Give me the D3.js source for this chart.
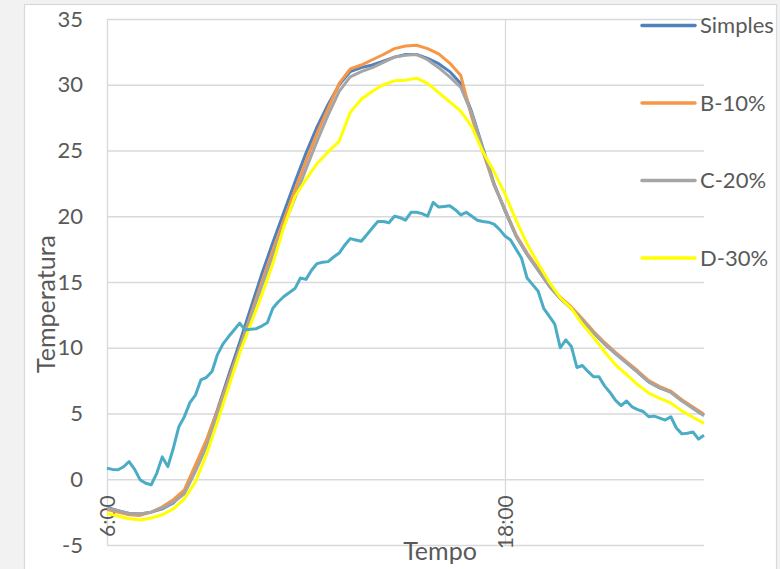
<!DOCTYPE html>
<html>
<head>
<meta charset="utf-8">
<script src="https://cdn.jsdelivr.net/npm/d3@7"></script>
<style>
  html, body { margin: 0; padding: 0; background: #f2f2f2; overflow: hidden; }
  svg { display: block; }
  text { font-family: Lato, "Open Sans", sans-serif; fill: #595959; }
</style>
</head>
<body>
<div class="canvas"></div>
<script>
// ---- data ----
const startHour = 6;
const endHour = 24;
const stepMain = 20; // minutes between points of the four named series
const stepTeal = 10; // minutes between points of the unnamed series

const seriesNames = ["Simples", "B-10%", "C-20%", "D-30%"];
const seriesColors = ["#4f81bd", "#f79646", "#a5a5a5", "#ffff00"];
const tealColor = "#4bacc6";

const simples = [
  -2.15, -2.4, -2.6, -2.65, -2.5, -2.25, -1.8, -0.95, 0.9, 2.9,
  5.3, 7.9, 10.4, 13.0, 15.6, 18.0, 20.3, 22.6, 24.8, 26.8,
  28.5, 30.0, 31.0, 31.3, 31.5, 31.8, 32.1, 32.3, 32.3, 32.0,
  31.6, 31.0, 30.1, 27.9, 25.2, 22.5, 20.4, 18.5, 17.1, 15.9,
  14.7, 13.75, 13.0, 12.1, 11.15, 10.3, 9.55, 8.85, 8.15, 7.4,
  6.95, 6.65, 6.0, 5.4, 4.85
];
const b10 = [
  -2.3, -2.5, -2.7, -2.75, -2.5, -2.1, -1.55, -0.8, 1.1, 3.0,
  5.2, 7.6, 10.0, 12.5, 15.0, 17.4, 19.7, 22.0, 24.2, 26.3,
  28.2, 30.1, 31.2, 31.5, 31.9, 32.3, 32.75, 32.95, 33.0, 32.75,
  32.35, 31.65, 30.7, 27.5, 24.9, 22.4, 20.5, 18.6, 17.2, 16.0,
  14.8, 13.85, 13.1, 12.2, 11.25, 10.4, 9.65, 8.95, 8.25, 7.5,
  7.05, 6.7, 6.05, 5.5, 4.95
];
const c20 = [
  -2.2, -2.4, -2.6, -2.65, -2.5, -2.2, -1.75, -1.1, 0.6, 2.5,
  5.0, 7.4, 9.9, 12.3, 14.7, 17.0, 19.3, 21.4, 23.6, 25.7,
  27.7, 29.5, 30.6, 31.0, 31.3, 31.7, 32.1, 32.25, 32.3, 31.9,
  31.3, 30.6, 29.8, 27.8, 25.1, 22.4, 20.5, 18.5, 17.1, 15.9,
  14.7, 13.75, 13.0, 12.1, 11.15, 10.3, 9.55, 8.85, 8.15, 7.4,
  6.95, 6.6, 5.95, 5.4, 4.85
];
const d30 = [
  -2.6, -2.8, -3.0, -3.1, -2.95, -2.7, -2.25, -1.5, -0.2, 1.9,
  4.4, 7.0, 9.6, 11.8, 14.0, 16.4, 19.2, 21.5, 22.8, 24.0,
  24.9, 25.7, 27.9, 28.9, 29.5, 30.0, 30.3, 30.35, 30.5, 30.1,
  29.4, 28.7, 28.0, 26.8, 24.9, 23.4, 21.7, 19.7, 17.9, 16.4,
  15.0, 13.8, 13.0, 11.8, 10.8, 9.7, 8.7, 7.95, 7.2, 6.55,
  6.15, 5.8, 5.2, 4.72, 4.25
];
const teal = [
  0.84, 0.75, 0.72, 0.95, 1.34, 0.75, -0.05, -0.3, -0.42, 0.45,
  1.7, 0.96, 2.36, 4.0, 4.76, 5.83, 6.4, 7.56, 7.75, 8.2,
  9.5, 10.3, 10.85, 11.35, 11.87, 11.36, 11.4, 11.45, 11.65, 11.9,
  13.0, 13.5, 13.9, 14.2, 14.5, 15.3, 15.2, 15.9, 16.4, 16.5,
  16.55, 16.9, 17.2, 17.8, 18.3, 18.2, 18.1, 18.6, 19.1, 19.6,
  19.6, 19.5, 20.0, 19.9, 19.7, 20.3, 20.3, 20.2, 20.0, 21.05,
  20.7, 20.75, 20.8, 20.5, 20.1, 20.3, 20.0, 19.7, 19.6, 19.55,
  19.4, 19.0, 18.5, 18.2, 17.5, 16.8, 15.3, 14.8, 14.3, 13.0,
  12.4, 11.8, 10.0, 10.6, 10.1, 8.5, 8.65, 8.2, 7.8, 7.8,
  7.1, 6.6, 6.0, 5.6, 5.95, 5.5, 5.3, 5.15, 4.75, 4.8,
  4.65, 4.5, 4.75, 3.9, 3.45, 3.5, 3.6, 3.05, 3.35
];

const yTicks = [-5, 0, 5, 10, 15, 20, 25, 30, 35];
const xTickHours = [6, 18];
const xTickLabels = ["6:00", "18:00"];

// ---- layout ----
const width = 780;
const height = 569;
const margin = { top: 19, right: 76, bottom: 24, left: 107 };
const graphWidth = width - margin.left - margin.right;
const graphHeight = height - margin.top - margin.bottom;

const svg = d3
  .select(".canvas")
  .append("svg")
  .attr("width", width)
  .attr("height", height);

// chart area frame
svg
  .append("rect")
  .attr("x", 24.5)
  .attr("y", 4.5)
  .attr("width", 752)
  .attr("height", 600)
  .attr("fill", "#fff")
  .attr("stroke", "#d9d9d9")
  .attr("stroke-width", 1.2);

const graph = svg
  .append("g")
  .attr("transform", `translate(${margin.left}, ${margin.top})`);

// scales
const x = d3.scaleLinear().domain([startHour, endHour]).range([0, graphWidth]);
const y = d3.scaleLinear().domain([-5, 35]).range([graphHeight, 0]);

// horizontal gridlines + y labels
const yAxisGroup = graph
  .append("g")
  .attr("class", "y-axis")
  .call(
    d3.axisLeft(y)
      .tickValues(yTicks)
      .tickSize(-graphWidth)
      .tickPadding(24)
      .tickFormat((d) => String(d))
  );
yAxisGroup.select(".domain").remove();
yAxisGroup
  .selectAll("line")
  .attr("stroke", "#d9d9d9")
  .attr("stroke-width", 1.3);
yAxisGroup
  .selectAll("text")
  .attr("font-size", 22)
  .style("font-family", "Lato, sans-serif")
  .attr("fill", "#595959");

// vertical gridlines
const xGridGroup = graph
  .append("g")
  .attr("class", "x-grid")
  .attr("transform", `translate(0, ${graphHeight})`)
  .call(d3.axisBottom(x).tickValues(xTickHours).tickSize(-graphHeight).tickFormat(""));
xGridGroup.select(".domain").remove();
xGridGroup
  .selectAll("line")
  .attr("stroke", "#d9d9d9")
  .attr("stroke-width", 1.3);

// x labels sit just under the zero line
const xAxisGroup = graph
  .append("g")
  .attr("class", "x-axis")
  .attr("transform", `translate(0, ${y(0)})`)
  .call(
    d3.axisBottom(x)
      .tickValues(xTickHours)
      .tickSize(0)
      .tickFormat((d, i) => xTickLabels[i])
  );
xAxisGroup.select(".domain").remove();
xAxisGroup
  .selectAll("text")
  .attr("font-size", 21)
  .style("font-family", "Lato, sans-serif")
  .attr("fill", "#595959")
  .attr("transform", "rotate(-90)")
  .attr("text-anchor", "end")
  .attr("x", -16)
  .attr("y", 0)
  .attr("dy", "0.36em");

// line generators
const mainLine = d3
  .line()
  .x((d, i) => x(startHour + (i * stepMain) / 60))
  .y((d) => y(d));

const tealLine = d3
  .line()
  .x((d, i) => x(startHour + (i * stepTeal) / 60))
  .y((d) => y(d));

const mainSeries = [simples, b10, c20, d30];

graph
  .selectAll("path.series")
  .data(mainSeries)
  .enter()
  .append("path")
  .attr("class", "series")
  .attr("fill", "none")
  .attr("stroke", (d, i) => seriesColors[i])
  .attr("stroke-width", 3)
  .attr("stroke-linejoin", "round")
  .attr("d", mainLine);

graph
  .append("path")
  .datum(teal)
  .attr("fill", "none")
  .attr("stroke", tealColor)
  .attr("stroke-width", 3)
  .attr("stroke-linejoin", "round")
  .attr("d", tealLine);

// legend
const legend = svg.append("g").attr("class", "legend");
const items = legend
  .selectAll("g")
  .data(seriesNames)
  .enter()
  .append("g")
  .attr("transform", (d, i) => `translate(642, ${25.5 + i * 77.5})`);

items
  .append("line")
  .attr("x1", 0)
  .attr("x2", 53)
  .attr("stroke", (d, i) => seriesColors[i])
  .attr("stroke-width", 3.5)
  .attr("stroke-linecap", "round");

items
  .append("text")
  .attr("x", 58)
  .attr("dy", "0.36em")
  .attr("font-size", 22)
  .text((d) => d);

// axis titles
svg
  .append("text")
  .attr("transform", "translate(46, 304) rotate(-90)")
  .attr("text-anchor", "middle")
  .attr("dy", "0.36em")
  .attr("font-size", 25)
  .text("Temperatura");

svg
  .append("text")
  .attr("x", 440)
  .attr("y", 560)
  .attr("text-anchor", "middle")
  .attr("font-size", 25)
  .text("Tempo");
</script>
</body>
</html>
